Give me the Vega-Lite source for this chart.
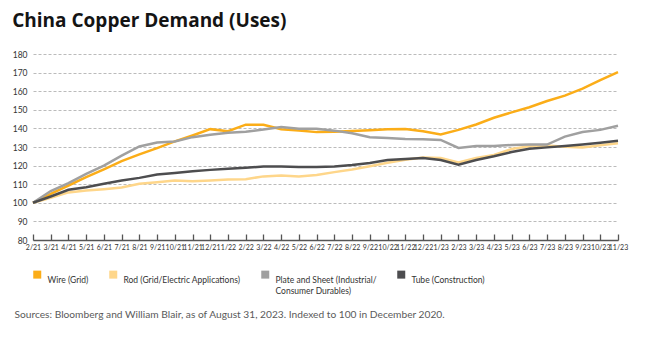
{
  "$schema": "https://vega.github.io/schema/vega-lite/v6.json",
  "width": 585,
  "height": 186,
  "autosize": {"type": "none"},
  "padding": {"left": 33, "top": 54, "right": 27, "bottom": 99},
  "background": "white",
  "title": {
    "text": "China Copper Demand (Uses)",
    "anchor": "start",
    "frame": "bounds",
    "font": "Open Sans",
    "fontSize": 19,
    "fontWeight": "bold",
    "color": "#141414",
    "dy": -15
  },
  "data": {
    "values": [
      {"month": "2/21", "Wire (Grid)": 100, "Rod (Grid/Electric Applications)": 100, "Plate and Sheet (Industrial/Consumer Durables)": 100, "Tube (Construction)": 100},
      {"month": "3/21", "Wire (Grid)": 104.8, "Rod (Grid/Electric Applications)": 102.7, "Plate and Sheet (Industrial/Consumer Durables)": 106.3, "Tube (Construction)": 103.4},
      {"month": "4/21", "Wire (Grid)": 109.3, "Rod (Grid/Electric Applications)": 105.6, "Plate and Sheet (Industrial/Consumer Durables)": 110.6, "Tube (Construction)": 107},
      {"month": "5/21", "Wire (Grid)": 113.8, "Rod (Grid/Electric Applications)": 106.6, "Plate and Sheet (Industrial/Consumer Durables)": 115.6, "Tube (Construction)": 108.4},
      {"month": "6/21", "Wire (Grid)": 118, "Rod (Grid/Electric Applications)": 107.3, "Plate and Sheet (Industrial/Consumer Durables)": 120, "Tube (Construction)": 110.2},
      {"month": "7/21", "Wire (Grid)": 122.4, "Rod (Grid/Electric Applications)": 108.2, "Plate and Sheet (Industrial/Consumer Durables)": 125.4, "Tube (Construction)": 112},
      {"month": "8/21", "Wire (Grid)": 126, "Rod (Grid/Electric Applications)": 110.2, "Plate and Sheet (Industrial/Consumer Durables)": 130.3, "Tube (Construction)": 113.4},
      {"month": "9/21", "Wire (Grid)": 129.4, "Rod (Grid/Electric Applications)": 111.1, "Plate and Sheet (Industrial/Consumer Durables)": 132.4, "Tube (Construction)": 115.2},
      {"month": "10/21", "Wire (Grid)": 133, "Rod (Grid/Electric Applications)": 112, "Plate and Sheet (Industrial/Consumer Durables)": 133, "Tube (Construction)": 116},
      {"month": "11/21", "Wire (Grid)": 136.2, "Rod (Grid/Electric Applications)": 111.6, "Plate and Sheet (Industrial/Consumer Durables)": 135.3, "Tube (Construction)": 117},
      {"month": "12/21", "Wire (Grid)": 139.6, "Rod (Grid/Electric Applications)": 112, "Plate and Sheet (Industrial/Consumer Durables)": 136.6, "Tube (Construction)": 117.7},
      {"month": "1/22", "Wire (Grid)": 138.5, "Rod (Grid/Electric Applications)": 112.5, "Plate and Sheet (Industrial/Consumer Durables)": 137.6, "Tube (Construction)": 118.3},
      {"month": "2/22", "Wire (Grid)": 142, "Rod (Grid/Electric Applications)": 112.7, "Plate and Sheet (Industrial/Consumer Durables)": 138.2, "Tube (Construction)": 118.8},
      {"month": "3/22", "Wire (Grid)": 142, "Rod (Grid/Electric Applications)": 114.2, "Plate and Sheet (Industrial/Consumer Durables)": 139.4, "Tube (Construction)": 119.5},
      {"month": "4/22", "Wire (Grid)": 139.6, "Rod (Grid/Electric Applications)": 114.7, "Plate and Sheet (Industrial/Consumer Durables)": 140.7, "Tube (Construction)": 119.5},
      {"month": "5/22", "Wire (Grid)": 138.9, "Rod (Grid/Electric Applications)": 114.2, "Plate and Sheet (Industrial/Consumer Durables)": 139.8, "Tube (Construction)": 119.2},
      {"month": "6/22", "Wire (Grid)": 138, "Rod (Grid/Electric Applications)": 114.9, "Plate and Sheet (Industrial/Consumer Durables)": 139.8, "Tube (Construction)": 119.2},
      {"month": "7/22", "Wire (Grid)": 138.2, "Rod (Grid/Electric Applications)": 116.5, "Plate and Sheet (Industrial/Consumer Durables)": 138.8, "Tube (Construction)": 119.5},
      {"month": "8/22", "Wire (Grid)": 138.6, "Rod (Grid/Electric Applications)": 117.9, "Plate and Sheet (Industrial/Consumer Durables)": 137.4, "Tube (Construction)": 120.3},
      {"month": "9/22", "Wire (Grid)": 139, "Rod (Grid/Electric Applications)": 119.7, "Plate and Sheet (Industrial/Consumer Durables)": 135.2, "Tube (Construction)": 121.4},
      {"month": "10/22", "Wire (Grid)": 139.5, "Rod (Grid/Electric Applications)": 121.5, "Plate and Sheet (Industrial/Consumer Durables)": 134.9, "Tube (Construction)": 123},
      {"month": "11/22", "Wire (Grid)": 139.7, "Rod (Grid/Electric Applications)": 123.2, "Plate and Sheet (Industrial/Consumer Durables)": 134.3, "Tube (Construction)": 123.5},
      {"month": "12/22", "Wire (Grid)": 138.5, "Rod (Grid/Electric Applications)": 124.4, "Plate and Sheet (Industrial/Consumer Durables)": 134.1, "Tube (Construction)": 124.1},
      {"month": "1/23", "Wire (Grid)": 136.7, "Rod (Grid/Electric Applications)": 124.1, "Plate and Sheet (Industrial/Consumer Durables)": 133.8, "Tube (Construction)": 123},
      {"month": "2/23", "Wire (Grid)": 139.2, "Rod (Grid/Electric Applications)": 121.7, "Plate and Sheet (Industrial/Consumer Durables)": 129.5, "Tube (Construction)": 120.5},
      {"month": "3/23", "Wire (Grid)": 142.1, "Rod (Grid/Electric Applications)": 124.1, "Plate and Sheet (Industrial/Consumer Durables)": 130.5, "Tube (Construction)": 123},
      {"month": "4/23", "Wire (Grid)": 145.7, "Rod (Grid/Electric Applications)": 125.7, "Plate and Sheet (Industrial/Consumer Durables)": 130.5, "Tube (Construction)": 125},
      {"month": "5/23", "Wire (Grid)": 148.6, "Rod (Grid/Electric Applications)": 128.9, "Plate and Sheet (Industrial/Consumer Durables)": 131.1, "Tube (Construction)": 127.3},
      {"month": "6/23", "Wire (Grid)": 151.4, "Rod (Grid/Electric Applications)": 130.4, "Plate and Sheet (Industrial/Consumer Durables)": 131.3, "Tube (Construction)": 129.1},
      {"month": "7/23", "Wire (Grid)": 154.7, "Rod (Grid/Electric Applications)": 130.8, "Plate and Sheet (Industrial/Consumer Durables)": 131.3, "Tube (Construction)": 129.8},
      {"month": "8/23", "Wire (Grid)": 157.6, "Rod (Grid/Electric Applications)": 130.2, "Plate and Sheet (Industrial/Consumer Durables)": 135.6, "Tube (Construction)": 130.5},
      {"month": "9/23", "Wire (Grid)": 161.4, "Rod (Grid/Electric Applications)": 129.8, "Plate and Sheet (Industrial/Consumer Durables)": 138.1, "Tube (Construction)": 131.3},
      {"month": "10/23", "Wire (Grid)": 165.9, "Rod (Grid/Electric Applications)": 130.9, "Plate and Sheet (Industrial/Consumer Durables)": 139.2, "Tube (Construction)": 132.3},
      {"month": "11/23", "Wire (Grid)": 170.2, "Rod (Grid/Electric Applications)": 132, "Plate and Sheet (Industrial/Consumer Durables)": 141.4, "Tube (Construction)": 133.4}
    ]
  },
  "transform": [
    {"fold": ["Wire (Grid)", "Rod (Grid/Electric Applications)", "Plate and Sheet (Industrial/Consumer Durables)", "Tube (Construction)"], "as": ["series", "value"]}
  ],
  "mark": {"type": "line", "strokeWidth": 2.5},
  "encoding": {
    "x": {
      "field": "month",
      "type": "ordinal",
      "sort": null,
      "scale": {"type": "point", "padding": 0},
      "axis": {
        "title": "Sources: Bloomberg and William Blair, as of August 31, 2023. Indexed to 100 in December 2020.",
        "titleX": -19,
        "titleY": 77,
        "titleAnchor": "start",
        "titleAlign": "left",
        "titleBaseline": "alphabetic",
        "titleFont": "Lato",
        "titleFontSize": 10.2,
        "titleFontWeight": "normal",
        "titleColor": "#5a5a5a",
        "labelAngle": 0,
        "labelOverlap": false,
        "labelFont": "Lato",
        "labelFontSize": 7,
        "labelColor": "#333333",
        "labelPadding": 9,
        "tickSize": -6,
        "tickColor": "#555555",
        "tickWidth": 1.3,
        "domainColor": "#555555",
        "domainWidth": 1.5,
        "grid": false
      }
    },
    "y": {
      "field": "value",
      "type": "quantitative",
      "scale": {"domain": [80, 180], "nice": false, "zero": false},
      "axis": {
        "title": null,
        "values": [80, 90, 100, 110, 120, 130, 140, 150, 160, 170, 180],
        "grid": true,
        "gridDash": [3, 2],
        "gridColor": "#bbbbbb",
        "gridWidth": 1,
        "domain": false,
        "ticks": false,
        "labelPadding": 6,
        "labelFont": "Lato",
        "labelFontSize": 8.5,
        "labelColor": "#333333"
      }
    },
    "color": {
      "field": "series",
      "type": "nominal",
      "scale": {
        "domain": ["Wire (Grid)", "Rod (Grid/Electric Applications)", "Plate and Sheet (Industrial/Consumer Durables)", "Tube (Construction)"],
        "range": ["#FBAD18", "#FED68A", "#A0A0A0", "#4D4D4F"]
      },
      "legend": {
        "orient": "none",
        "legendX": 0,
        "legendY": 216,
        "direction": "horizontal",
        "columns": 4,
        "title": null,
        "symbolType": "square",
        "symbolSize": 64,
        "symbolStrokeWidth": 0,
        "labelFont": "Lato",
        "labelFontSize": 8.5,
        "labelColor": "#333333",
        "labelOffset": 6,
        "labelLimit": 300,
        "columnPadding": 20,
        "labelExpr": "datum.value == 'Plate and Sheet (Industrial/Consumer Durables)' ? ['Plate and Sheet (Industrial/', 'Consumer Durables)'] : [datum.label, '']",
        "encode": {
          "symbols": {"update": {"fill": {"scale": "color", "field": "value"}, "strokeWidth": {"value": 0}}},
          "labels": {"update": {"lineHeight": {"value": 11}, "dy": {"value": 5.5}}}
        }
      }
    }
  },
  "config": {"view": {"stroke": null}}
}
